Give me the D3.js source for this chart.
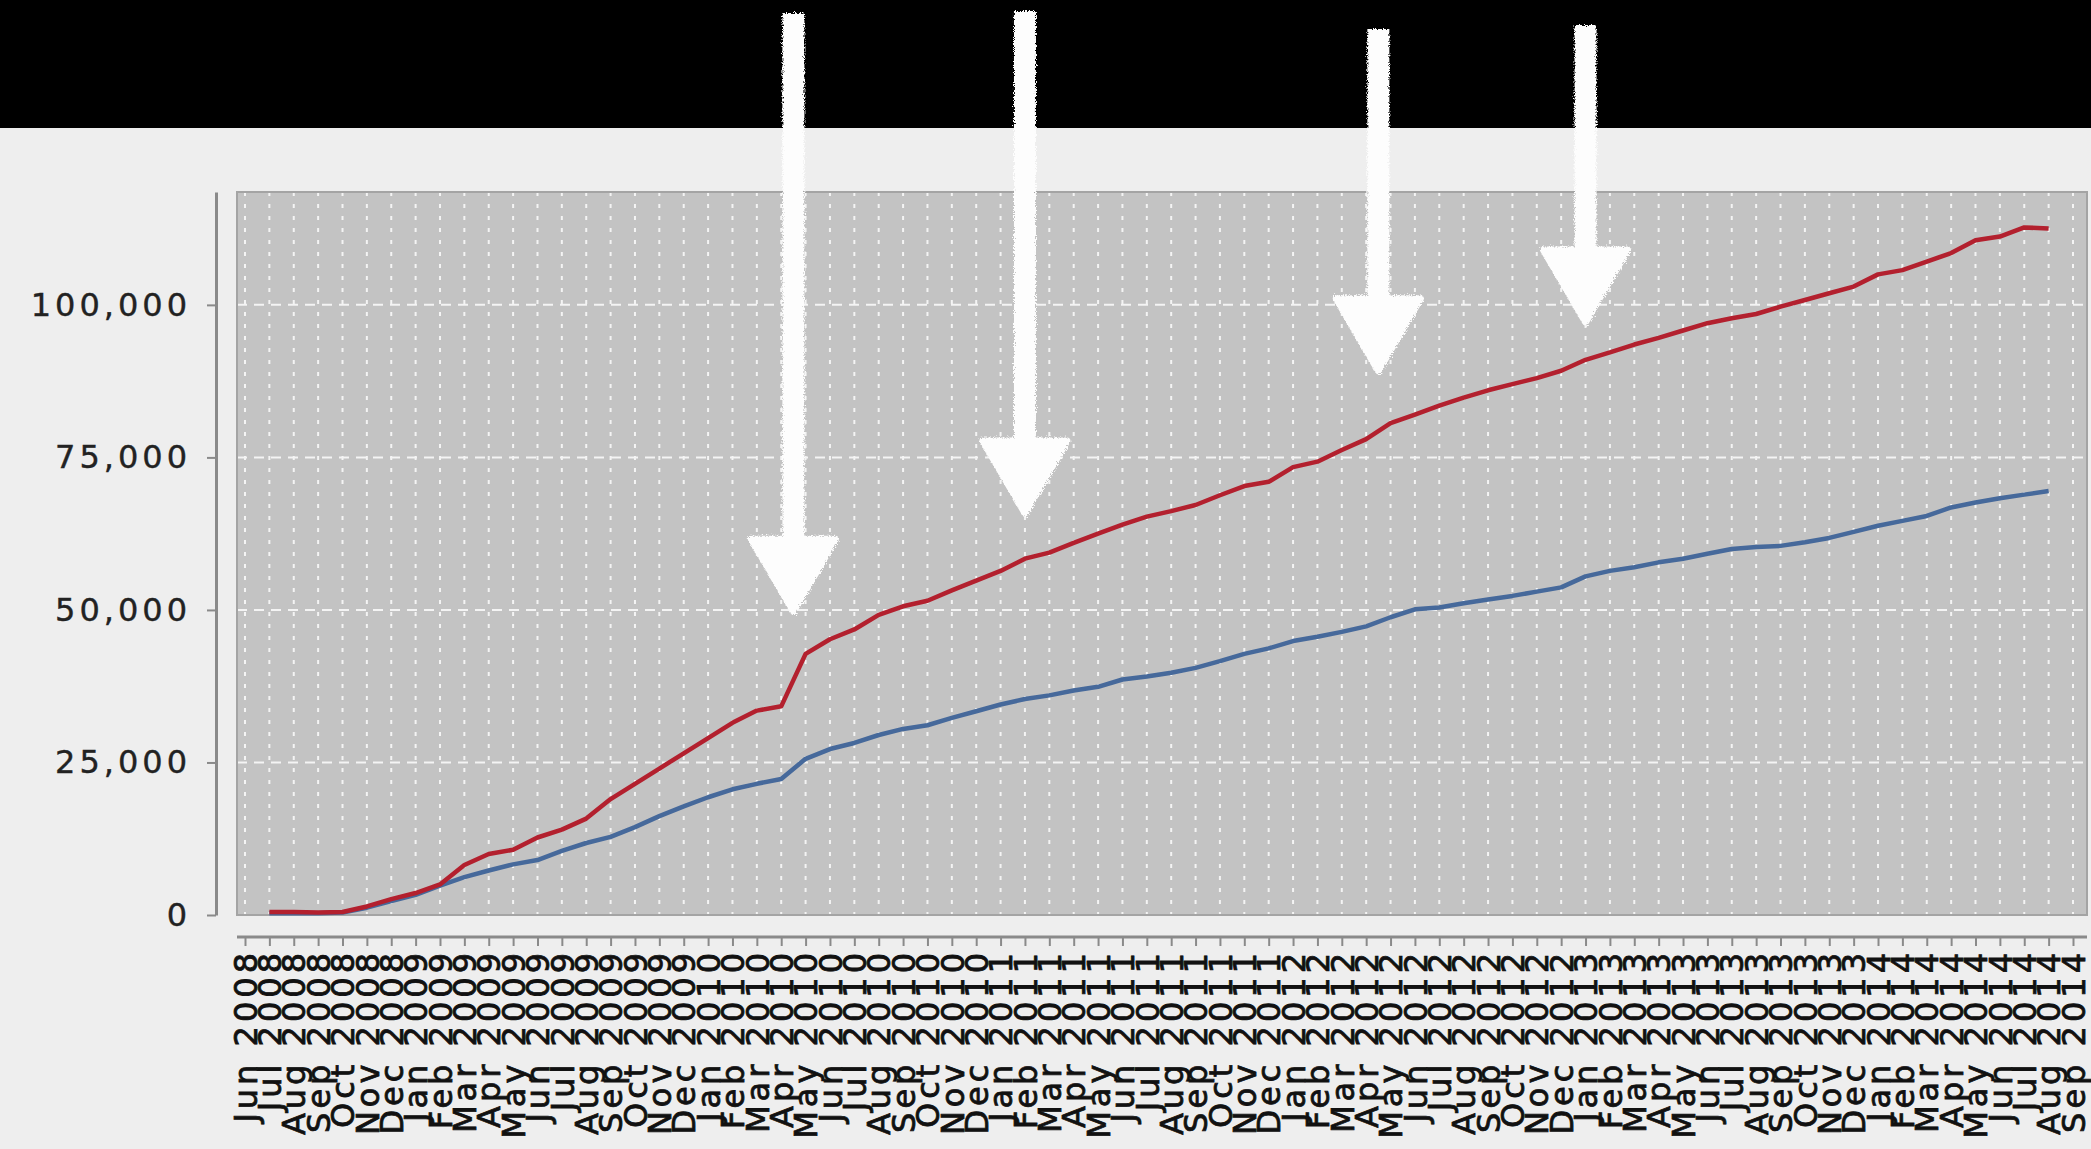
<!DOCTYPE html>
<html>
<head>
<meta charset="utf-8">
<script src="https://cdn.jsdelivr.net/npm/d3@7"></script>
<style>
  body { margin: 0; background: #eeeeee; }
  text { font-family: "DejaVu Sans", sans-serif; }
</style>
</head>
<body>
<div id="container"></div>
<script>
// category labels (one per month)
const labels = [
  "Jun 2008","Jul 2008","Aug 2008","Sep 2008","Oct 2008","Nov 2008","Dec 2008",
  "Jan 2009","Feb 2009","Mar 2009","Apr 2009","May 2009","Jun 2009","Jul 2009","Aug 2009","Sep 2009","Oct 2009","Nov 2009","Dec 2009",
  "Jan 2010","Feb 2010","Mar 2010","Apr 2010","May 2010","Jun 2010","Jul 2010","Aug 2010","Sep 2010","Oct 2010","Nov 2010","Dec 2010",
  "Jan 2011","Feb 2011","Mar 2011","Apr 2011","May 2011","Jun 2011","Jul 2011","Aug 2011","Sep 2011","Oct 2011","Nov 2011","Dec 2011",
  "Jan 2012","Feb 2012","Mar 2012","Apr 2012","May 2012","Jun 2012","Jul 2012","Aug 2012","Sep 2012","Oct 2012","Nov 2012","Dec 2012",
  "Jan 2013","Feb 2013","Mar 2013","Apr 2013","May 2013","Jun 2013","Jul 2013","Aug 2013","Sep 2013","Oct 2013","Nov 2013","Dec 2013",
  "Jan 2014","Feb 2014","Mar 2014","Apr 2014","May 2014","Jun 2014","Jul 2014","Aug 2014","Sep 2014"
];

// red series (upper line)
const redValues = [
  null, 500, 500, 400, 500, 1400, 2600,
  3600, 5000, 8200, 10000, 10700, 12700, 14000, 15800, 19000, 21500, 24000, 26500,
  29000, 31500, 33500, 34200, 42800, 45200, 46800, 49200, 50600, 51500, 53200, 54800,
  56400, 58400, 59400, 61000, 62500, 64000, 65300, 66200, 67200, 68800, 70300, 71000,
  73400, 74300, 76200, 78000, 80600, 82000, 83500, 84800, 86000, 87000, 88000, 89200,
  91000, 92200, 93500, 94600, 95800, 97000, 97800, 98500, 99700, 100800, 101900, 103000,
  105000, 105700, 107100, 108500, 110600, 111200, 112700, 112500, null
];

// blue series (lower line)
const blueValues = [
  null, 300, 300, 300, 400, 1200, 2300,
  3300, 4800, 6200, 7300, 8300, 9000, 10500, 11800, 12800, 14400, 16200, 17800,
  19300, 20600, 21500, 22300, 25600, 27200, 28200, 29500, 30500, 31100, 32300, 33400,
  34500, 35400, 36000, 36800, 37400, 38600, 39100, 39700, 40500, 41600, 42800, 43700,
  44900, 45600, 46400, 47300, 48800, 50100, 50400, 51100, 51700, 52300, 53000, 53700,
  55500, 56400, 57000, 57800, 58400, 59200, 60000, 60300, 60500, 61100, 61800, 62800,
  63800, 64600, 65400, 66800, 67600, 68300, 68900, 69500, null
];

const yTicks = [0, 25000, 50000, 75000, 100000];
const yMax = 118500;

// white arrows drawn over the chart
const arrowCats = ["Apr 2010", "Feb 2011", "Apr 2012", "Jan 2013"];
const arrowShift = [0.5, 0, 0.5, 0];
const arrowTips = [49800, 65900, 89200, 97200];
const arrowTops = [13, 11, 29, 25];

const width = 2091, height = 1149;
const margin = { top: 192, right: 4, bottom: 234, left: 237 };
const w = width - margin.left - margin.right;
const h = height - margin.top - margin.bottom;

const svg = d3.select("#container").append("svg")
    .attr("width", width)
    .attr("height", height);

svg.append("rect").attr("width", width).attr("height", height).attr("fill", "#eeeeee");
svg.append("rect").attr("width", width).attr("height", 128).attr("fill", "#000");

const defs = svg.append("defs");
const rough = defs.append("filter").attr("id", "rough")
    .attr("x", "-20%").attr("y", "-5%").attr("width", "140%").attr("height", "110%");
rough.append("feTurbulence").attr("type", "fractalNoise").attr("baseFrequency", 0.9)
    .attr("numOctaves", 2).attr("result", "noise");
rough.append("feDisplacementMap").attr("in", "SourceGraphic").attr("in2", "noise").attr("scale", 6);

const g = svg.append("g")
    .attr("transform", "translate(" + margin.left + "," + margin.top + ")");

g.append("rect").attr("width", w).attr("height", h).attr("fill", "#c3c3c3");

const x = d3.scalePoint().domain(labels).range([8, 1836]);
const y = d3.scaleLinear().domain([0, yMax]).range([h, 0]);

// vertical grid
g.selectAll("line.vgrid").data(labels).join("line")
    .attr("class", "vgrid")
    .attr("x1", d => x(d)).attr("x2", d => x(d))
    .attr("y1", 0).attr("y2", h)
    .attr("stroke", "#f4f4f4").attr("stroke-width", 2)
    .attr("stroke-dasharray", "4,8");

// horizontal grid
g.selectAll("line.hgrid").data(yTicks.filter(d => d > 0)).join("line")
    .attr("class", "hgrid")
    .attr("x1", 0).attr("x2", w)
    .attr("y1", d => y(d)).attr("y2", d => y(d))
    .attr("stroke", "#f4f4f4").attr("stroke-width", 2)
    .attr("stroke-dasharray", "10,7");

// zero baseline
g.append("line")
    .attr("x1", 0).attr("x2", w)
    .attr("y1", y(0)).attr("y2", y(0))
    .attr("stroke", "#8383dc").attr("stroke-width", 2)
    .attr("stroke-dasharray", "10,7");

g.append("rect").attr("width", w).attr("height", h)
    .attr("fill", "none").attr("stroke", "#a4a4a4").attr("stroke-width", 2);

const line = values => d3.line()
    .defined((d, i) => values[i] != null)
    .x((d, i) => x(labels[i]))
    .y((d, i) => y(values[i]))(values);

g.append("path")
    .attr("d", line(blueValues))
    .attr("fill", "none")
    .attr("stroke", "#46699b")
    .attr("stroke-width", 4.5)
    .attr("stroke-linejoin", "round");

g.append("path")
    .attr("d", line(redValues))
    .attr("fill", "none")
    .attr("stroke", "#b3202e")
    .attr("stroke-width", 4.5)
    .attr("stroke-linejoin", "round");

// y axis
const yAxis = g.append("g")
    .attr("transform", "translate(-21,0)")
    .call(d3.axisLeft(y).tickValues(yTicks).tickFormat(d3.format(","))
        .tickSize(9).tickPadding(16).tickSizeOuter(0));
yAxis.select(".domain").attr("stroke", "#8a8a8a").attr("stroke-width", 3);
yAxis.selectAll(".tick line").attr("stroke", "#8a8a8a").attr("stroke-width", 2);
yAxis.selectAll(".tick text")
    .style("font", "32px 'DejaVu Sans'")
    .attr("letter-spacing", 4)
    .attr("fill", "#222")
    .attr("stroke", "#222").attr("stroke-width", 0.4);

// x axis
const xAxis = g.append("g")
    .attr("transform", "translate(0," + (h + 22) + ")")
    .call(d3.axisBottom(x).tickSize(9).tickSizeOuter(0));
xAxis.select(".domain").remove();
xAxis.append("line")
    .attr("x1", 0).attr("x2", w)
    .attr("stroke", "#8a8a8a").attr("stroke-width", 3);
xAxis.selectAll(".tick line").attr("stroke", "#8a8a8a").attr("stroke-width", 2);
xAxis.selectAll(".tick text")
    .style("font", "32px 'DejaVu Sans'")
    .attr("letter-spacing", 4)
    .attr("fill", "#111")
    .attr("stroke", "#111").attr("stroke-width", 0.8)
    .attr("text-anchor", "end")
    .attr("transform", "rotate(-90)")
    .attr("x", -12)
    .attr("y", 0)
    .attr("dy", "0.35em");

// arrows
const arrows = svg.append("g").attr("filter", "url(#rough)");
arrowCats.forEach((c, i) => {
    const ax = margin.left + x(c) + arrowShift[i] * x.step();
    const tip = margin.top + y(arrowTips[i]);
    const base = tip - 72;
    arrows.append("rect")
        .attr("x", ax - 11).attr("y", arrowTops[i])
        .attr("width", 22).attr("height", base - arrowTops[i] + 4)
        .attr("fill", "#fdfdfd");
    arrows.append("path")
        .attr("d", "M" + (ax - 42) + "," + base + "L" + (ax + 42) + "," + base + "L" + ax + "," + tip + "Z")
        .attr("fill", "#fdfdfd")
        .attr("stroke", "#fdfdfd")
        .attr("stroke-width", 7)
        .attr("stroke-linejoin", "round");
});
</script>
</body>
</html>
